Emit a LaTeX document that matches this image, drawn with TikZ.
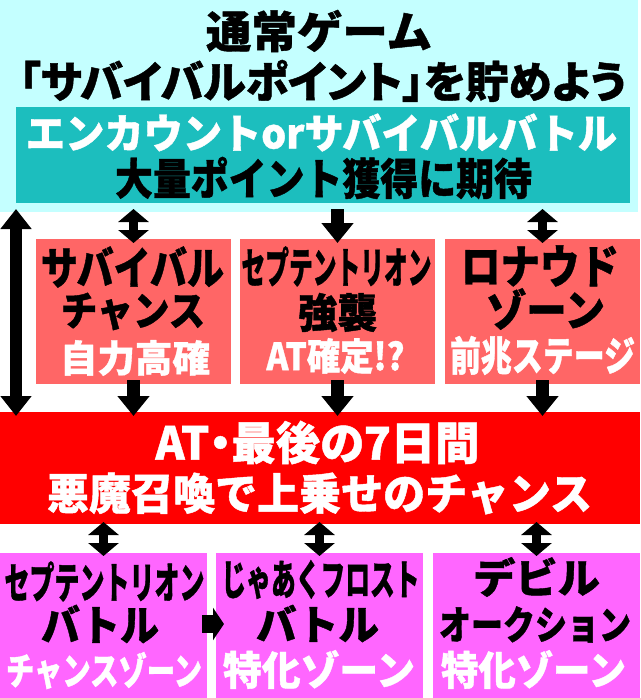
\documentclass[tikz,border=0pt]{standalone}
\usepackage{fontspec}
\usepackage{graphicx}
\setmainfont{Noto Sans CJK JP}[BoldFeatures={FakeBold=1}]
\usetikzlibrary{arrows.meta,calc}
\definecolor{cyanbg}{HTML}{C4FFFF}
\definecolor{tealbox}{HTML}{1CBEBE}
\definecolor{salmon}{HTML}{FF6666}
\definecolor{redband}{HTML}{FF0000}
\definecolor{magbox}{HTML}{FF66FF}
\newcommand{\fitxt}[3]{\resizebox{#1pt}{#2pt}{#3}}
\begin{document}
\begin{tikzpicture}[x=1pt,y=-1pt,
  box/.style={inner sep=0,outer sep=0,anchor=north west,draw=none},
  txt/.style={inner sep=0,outer sep=0,font=\bfseries},
  wt/.style={txt,text=white},
  dblshort/.style={line width=9pt,{Triangle[width=30pt,length=13pt]}-{Triangle[width=30pt,length=13pt]}},
  dblong/.style={line width=12pt,{Triangle[width=30pt,length=20pt]}-{Triangle[width=30pt,length=20pt]}},
  downarr/.style={line width=13pt,-{Triangle[width=31pt,length=20pt]}},
  rightarr/.style={line width=18pt,-{Triangle[width=32pt,length=11pt]}}]
\useasboundingbox (0,0) rectangle (640,698);
\fill[white] (0,0) rectangle (640,698);
% boxes
\node[box,fill=cyanbg,minimum width=638pt,minimum height=212pt] (bg) at (0,0) {};
\node[box,fill=tealbox,minimum width=614pt,minimum height=96pt] (teal) at (16,107) {};
\node[box,fill=salmon,minimum width=195pt,minimum height=145pt] (s1) at (36,239) {};
\node[box,fill=salmon,minimum width=195pt,minimum height=145pt] (s2) at (240,239) {};
\node[box,fill=salmon,minimum width=195pt,minimum height=145pt] (s3) at (445,239) {};
\node[box,fill=redband,minimum width=640pt,minimum height=112pt] (band) at (0,412) {};
\node[box,fill=magbox,minimum width=207pt,minimum height=145pt] (m1) at (0,553) {};
\node[box,fill=magbox,minimum width=207pt,minimum height=145pt] (m2) at (216,553) {};
\node[box,fill=magbox,minimum width=207pt,minimum height=145pt] (m3) at (433,553) {};
% texts
\node[txt] (t1) at (319,31) {\fitxt{226}{38}{通常ゲーム}};
\node[txt] (t2) at (322.5,81) {\fitxt{607}{38}{\addfontfeatures{RawFeature=+palt}「サバイバルポイント」を貯めよう}};
\node[wt] (t3) at (321.5,132.5) {\fitxt{591}{35}{エンカウントorサバイバルバトル}};
\node[txt] (t4) at (323.5,178) {\fitxt{417}{38}{大量ポイント獲得に期待}};
\node[txt] (a1) at (132.5,267) {\fitxt{183}{38}{サバイバル}};
\node[txt] (a2) at (133,311.5) {\fitxt{144}{33}{チャンス}};
\node[wt] (a3) at (135,358) {\fitxt{150}{32}{自力高確}};
\node[txt] (b1) at (336.5,266.5) {\fitxt{190}{37}{セプテントリオン}};
\node[txt] (b2) at (337.5,312.5) {\fitxt{79}{35}{強襲}};
\node[wt] (b3) at (335.5,356) {\fitxt{138}{32}{AT確定!?}};
\node[txt] (c1) at (540,266) {\fitxt{158}{38}{ロナウド}};
\node[txt] (c2) at (545.5,309) {\fitxt{119}{38}{ゾーン}};
\node[wt] (c3) at (542.5,355.5) {\fitxt{185}{35}{前兆ステージ}};
\node[wt] (r1) at (317.5,442.5) {\fitxt{324}{39}{\addfontfeatures{RawFeature=+palt}AT・最後の7日間}};
\node[wt] (r2) at (319.5,493.5) {\fitxt{545}{37}{悪魔召喚で上乗せのチャンス}};
\node[txt] (d1) at (104.5,581.5) {\fitxt{200}{37}{セプテントリオン}};
\node[txt] (d2) at (100,624) {\fitxt{118}{36}{バトル}};
\node[wt] (d3) at (104,670.5) {\fitxt{196}{33}{チャンスゾーン}};
\node[txt] (e1) at (320.5,579.5) {\fitxt{198}{35}{じゃあくフロスト}};
\node[txt] (e2) at (317.5,623.5) {\fitxt{123}{35}{バトル}};
\node[wt] (e3) at (319,669.5) {\fitxt{192}{35}{特化ゾーン}};
\node[txt] (f1) at (536.5,577) {\fitxt{127}{36}{デビル}};
\node[txt] (f2) at (535,624.5) {\fitxt{192}{33}{オークション}};
\node[wt] (f3) at (533.5,669.5) {\fitxt{185}{35}{特化ゾーン}};
% arrows
\draw[dblong] ($(teal.west |- bg.south)+(0,-3)$) -- ($(teal.west |- band.north)+(0,4)$);
\draw[dblshort] ($(s1.north |- bg.south)+(0,-3)$) -- ($(s1.north)+(0,4)$);
\draw[downarr] ($(s2.north |- bg.south)+(0,-3)$) -- ($(s2.north)+(0,4)$);
\draw[dblshort] ($(s3.north |- bg.south)+(0,-3)$) -- ($(s3.north)+(0,4)$);
\draw[downarr] ($(s1.south)+(0,-4)$) -- ($(s1.south |- band.north)+(0,4)$);
\draw[downarr] ($(s2.south)+(0,-4)$) -- ($(s2.south |- band.north)+(0,4)$);
\draw[downarr] ($(s3.south)+(0,-4)$) -- ($(s3.south |- band.north)+(0,4)$);
\draw[dblshort] ($(m1.north |- band.south)+(0,-2)$) -- ($(m1.north)+(0,3)$);
\draw[dblshort] ($(m2.north |- band.south)+(0,-2)$) -- ($(m2.north)+(0,3)$);
\draw[dblshort] ($(m3.north |- band.south)+(0,-2)$) -- ($(m3.north)+(0,3)$);
\draw[rightarr] ($(m1.east)+(-5,-1.5)$) -- ($(m2.west)+(8,-1.5)$);
\end{tikzpicture}
\end{document}
